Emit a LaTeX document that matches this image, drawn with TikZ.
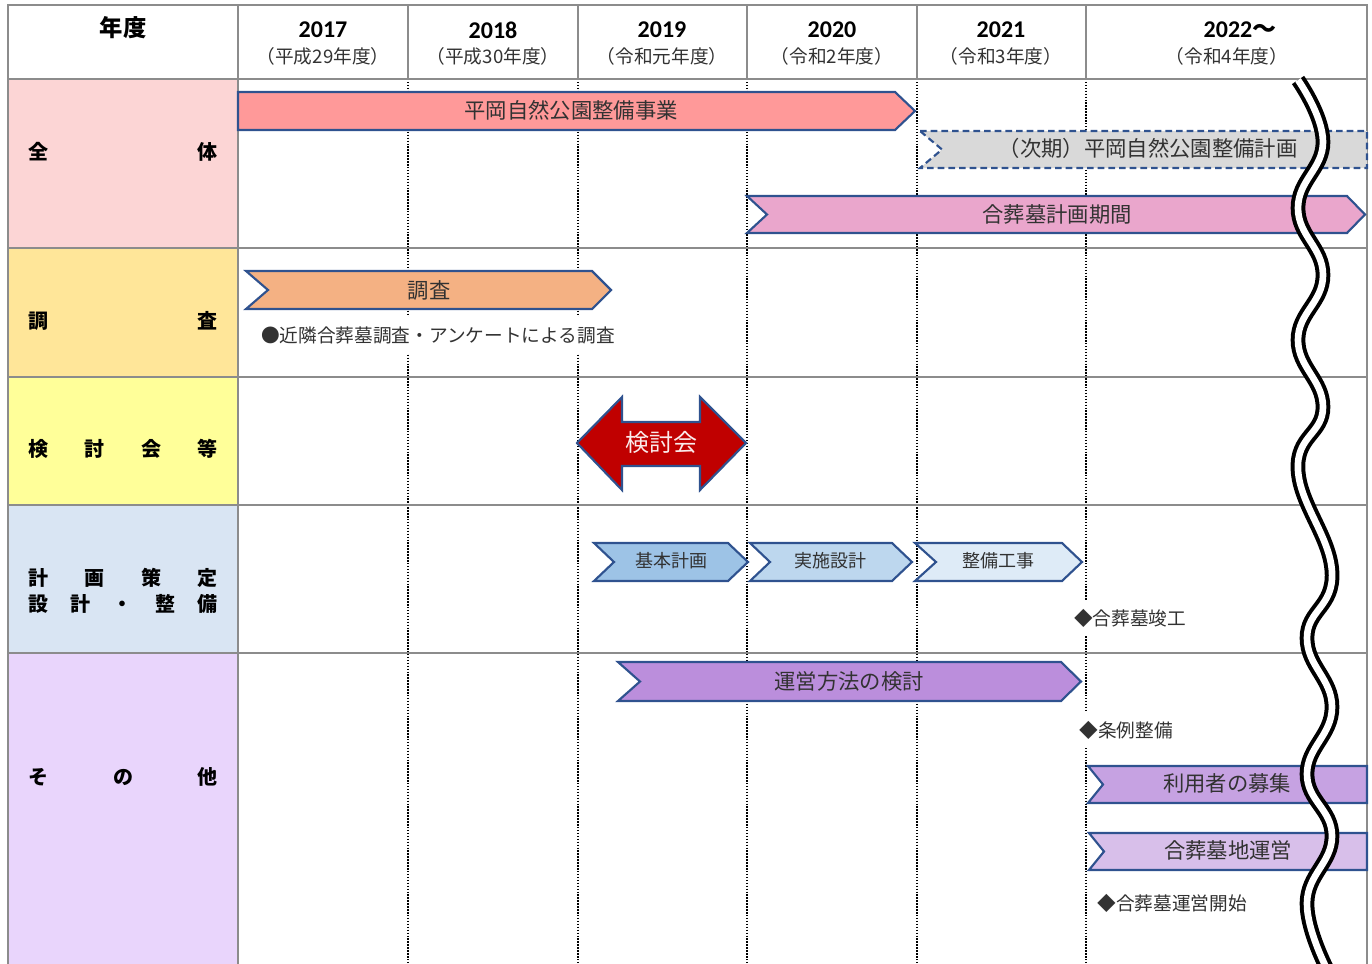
\documentclass[tikz,border=0pt]{standalone}
\usepackage{fontspec}
\setmainfont{Noto Sans CJK JP}
\newfontfamily\yearfont{Carlito}
\usepackage{tikz}
\usetikzlibrary{positioning}

\definecolor{tblgray}{RGB}{140,140,140}
\definecolor{edgeblue}{RGB}{47,82,143}
\definecolor{txtgray}{RGB}{50,50,50}
\definecolor{allfill}{RGB}{252,213,213}
\definecolor{surveyfill}{RGB}{255,230,153}
\definecolor{meetfill}{RGB}{255,255,153}
\definecolor{planfill}{RGB}{217,229,243}
\definecolor{otherfill}{RGB}{233,213,252}
\definecolor{parkred}{RGB}{255,153,153}
\definecolor{nextgray}{RGB}{217,217,217}
\definecolor{gravepink}{RGB}{234,166,204}
\definecolor{surveyorange}{RGB}{244,177,131}
\definecolor{meetred}{RGB}{192,0,0}
\definecolor{blueA}{RGB}{157,195,230}
\definecolor{blueB}{RGB}{189,215,238}
\definecolor{blueC}{RGB}{222,235,247}
\definecolor{purpleA}{RGB}{187,142,220}
\definecolor{purpleB}{RGB}{198,162,226}
\definecolor{purpleC}{RGB}{216,191,234}

\begin{document}
\begin{tikzpicture}[x=0.75pt, y=-0.75pt,
    tablerule/.style={draw=tblgray, line width=1.6pt},
    yearline/.style={dash pattern=on 1.1pt off 1.1pt, line width=1.1pt},
    chevron/.style={draw=edgeblue, line width=1.6pt, line join=miter},
    bartext/.style={font=\fontsize{16}{19}\selectfont, text=txtgray, inner sep=0pt},
    smalltext/.style={font=\fontsize{13.5}{16}\selectfont, text=txtgray, inner sep=0pt},
    memo/.style={fill=white, inner xsep=1pt, inner ysep=7pt, font=\fontsize{14}{16}\selectfont, text=txtgray},
    rowlabel/.style={text width=142pt, inner sep=0pt, align=left, font=\bfseries\fontsize{15}{19}\selectfont},
    yearhead/.style={font=\bfseries\fontsize{18}{20}\selectfont},
    era/.style={font=\fontsize{14}{16}\selectfont, text=txtgray},
]
\useasboundingbox (0,0) rectangle (1372,964);
\clip (0,0) rectangle (1372,964);

% Row label cells
\fill[allfill] (8,79) rectangle (238,248);
\fill[surveyfill] (8,248) rectangle (238,377);
\fill[meetfill] (8,377) rectangle (238,505);
\fill[planfill] (8,505) rectangle (238,653);
\fill[otherfill] (8,653) rectangle (238,980);

% Year separators
\foreach \x in {408,578,747,917,1086}
    \draw[yearline] (\x,79) -- (\x,980);

% Table rules
\draw[tablerule] (8,5) rectangle (1367,980);
\foreach \y in {79,248,377,505,653}
    \draw[tablerule] (8,\y) -- (1367,\y);
\draw[tablerule] (238,5) -- (238,980);
\foreach \x in {408,578,747,917,1086}
    \draw[tablerule] (\x,5) -- (\x,79);

% Header
\node[font=\bfseries\fontsize{17.5}{20}\selectfont] (nendo) at (123,28) {年度};
\node[yearhead] (y17) at (323,30) {\yearfont 2017};
\node[yearhead] (y18) at (493,30) {\yearfont 2018};
\node[yearhead] (y19) at (662,30) {\yearfont 2019};
\node[yearhead] (y20) at (832,30) {\yearfont 2020};
\node[yearhead] (y21) at (1001,30) {\yearfont 2021};
\node[yearhead] (y22) at (1240,30) {{\yearfont 2022}～};
\node[era] (e17) at (323,56) {（平成29年度）};
\node[era] (e18) at (493,56) {（平成30年度）};
\node[era] (e19) at (662,56) {（令和元年度）};
\node[era] (e20) at (832,56) {（令和2年度）};
\node[era] (e21) at (1001,56) {（令和3年度）};
\node[era] (e22) at (1227,56) {（令和4年度）};

% Row labels
\node[rowlabel] (lall) at (123,152) {全\hfill 体};
\node[rowlabel] (lsurvey) at (123,321) {調\hfill 査};
\node[rowlabel] (lmeet) at (123,449) {検\hfill 討\hfill 会\hfill 等};
\node[rowlabel] (lplan) at (123,591) {計\hfill 画\hfill 策\hfill 定\\設\hfill 計\hfill ・\hfill 整\hfill 備};
\node[rowlabel] (lother) at (123,777) {そ\hfill の\hfill 他};

% Row 1 - overall
\draw[chevron, fill=parkred] (238,92) -- (895,92) -- (915,111) -- (895,130) -- (238,130) -- cycle;
\node[bartext] (park) at (571,110) {平岡自然公園整備事業};
\draw[chevron, fill=nextgray, dash pattern=on 5pt off 3pt] (920,131) -- (1367,131) -- (1367,168) -- (920,168) -- (942,149.5) -- cycle;
\node[bartext] (nextplan) at (1148,148) {（次期）平岡自然公園整備計画};
\draw[chevron, fill=gravepink] (747,196) -- (1347,196) -- (1365,214.5) -- (1347,233) -- (747,233) -- (767,214.5) -- cycle;
\node[bartext] (period) at (1057,214) {合葬墓計画期間};

% Row 2 - survey
\draw[chevron, fill=surveyorange] (246,271) -- (592,271) -- (611,290) -- (592,309) -- (246,309) -- (268,290) -- cycle;
\node[bartext] (survey) at (429,290) {調査};
\node[memo] (surveynote) at (438,335) {●近隣合葬墓調査・アンケートによる調査};

% Row 3 - meetings
\draw[chevron, fill=meetred] (577,443) -- (622,397) -- (622,422) -- (700,422) -- (700,397) -- (746,443)
    -- (700,490) -- (700,466) -- (622,466) -- (622,490) -- cycle;
\node[font=\fontsize{18}{20}\selectfont, text=white!92!meetred] (meeting) at (661,442) {検討会};

% Row 4 - planning and works
\draw[chevron, fill=blueA] (594,543) -- (728,543) -- (748,562) -- (728,581) -- (594,581) -- (614,562) -- cycle;
\node[smalltext] (basic) at (671,561) {基本計画};
\draw[chevron, fill=blueB] (750,543) -- (892,543) -- (912,562) -- (892,581) -- (750,581) -- (770,562) -- cycle;
\node[smalltext] (design) at (830,561) {実施設計};
\draw[chevron, fill=blueC] (915,543) -- (1062,543) -- (1082,562) -- (1062,581) -- (915,581) -- (936,562) -- cycle;
\node[smalltext] (works) at (998,561) {整備工事};
\node[memo] (done) at (1130,618) {◆合葬墓竣工};

% Row 5 - others
\draw[chevron, fill=purpleA] (618,662) -- (1061,662) -- (1081,681.5) -- (1061,701) -- (618,701) -- (640,681.5) -- cycle;
\node[bartext] (method) at (849,681) {運営方法の検討};
\node[memo] (bylaw) at (1126,730) {◆条例整備};
\draw[chevron, fill=purpleB] (1088,766) -- (1367,766) -- (1367,803) -- (1088,803) -- (1103,784.5) -- cycle;
\node[bartext] (recruit) at (1227,783) {利用者の募集};
\draw[chevron, fill=purpleC] (1089,833) -- (1367,833) -- (1367,870) -- (1089,870) -- (1104,851.5) -- cycle;
\node[bartext] (ops) at (1228,850) {合葬墓地運営};
\node[memo] (opstart) at (1172,903) {◆合葬墓運営開始};

% Break line
\draw[line width=3pt, double=white, double distance=5pt] plot[smooth, tension=0.75] coordinates {
    (1298,80) (1323,142) (1298,208) (1323,275) (1298,340) (1323,407) (1298,470)
    (1332,572) (1307,638) (1332,707) (1307,774) (1332,836) (1307,903) (1330,975)};

\end{tikzpicture}
\end{document}
